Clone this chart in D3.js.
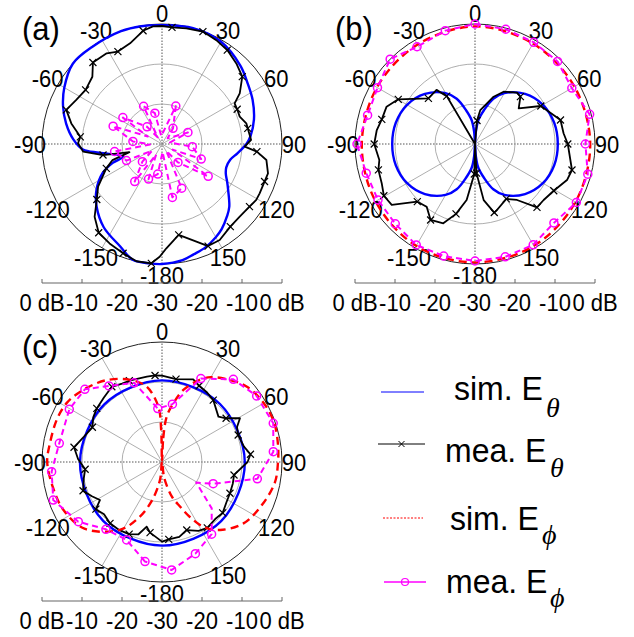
<!DOCTYPE html>
<html><head><meta charset="utf-8">
<script src="https://cdn.jsdelivr.net/npm/d3@7"></script>
<style>body{margin:0;background:#fff}svg{display:block}text{font-family:"Liberation Sans",Arial,sans-serif;fill:#000}</style>
</head><body><svg id="chart" width="634" height="637"></svg>
<script>
// ---------- data ----------
const angleTicks = [0,30,60,90,120,150,180,-150,-120,-90,-60,-30];
const angleLabels = ["0","30","60","90","120","150","-180","-150","-120","-90","-60","-30"];
const ringLevels = [-20,-10];
const scaleTickIdx = [-3,-2,-1,0,1,2,3];
const scaleLabels = ["0 dB","-10","-20","-30","-20","-10","0 dB"];
const panelLabels = ["(a)","(b)","(c)"];

// (a)
const aSimTheta = [[0,-0.3],[15,0],[30,-0.5],[45,-2.3],[55,-3.8],[64,-4.8],[75,-6.2],[85,-7.8],[90,-8.9],[97,-11],[103,-12.5],[110,-12.9],[115,-12.4],[120,-11.2],[125,-9.8],[133,-7],[138,-5.7],[145,-4],[150,-3.1],[157,-2],[164,-1.3],[170,-0.5],[180,0],[-174,0],[-166,-0.1],[-158,-2.3],[-145,-4.6],[-134,-7.3],[-125,-10],[-116,-13.5],[-111,-16.8],[-108,-19.8],[-98,-14.2],[-94,-10.2],[-87,-7.8],[-78,-5.5],[-69,-3.5],[-60,-1.8],[-48,0],[-36,-0.1],[-20,0],[-10,-0.1]];
const aMeaTheta = [[0,-0.5],[4.9,-0.75,1],[11.9,-0.45],[20,-0.1,1],[27.6,-0.7],[34.8,-1.4,1],[42.7,-2.6],[50,-3.8,1],[56.9,-6.8],[60.8,-9.2],[65.2,-9.3,1],[70.6,-9.4],[76.2,-8.3],[79.7,-8.2,1],[87.4,-7.7],[91.8,-9.3],[94.6,-6.2,1],[98.7,-3.6],[105.5,-2.5],[110.1,-2.7,1],[116.8,-2.65],[120.7,-2.6],[125.6,-3.1,1],[133.1,-3.4],[140.4,-3.2,1],[149,-2],[155.7,-2,1],[160.6,-4.1],[169.6,-6.9,1],[177.6,-3.9],[-178.8,-1.8],[-174.9,-0.05,1],[-167.7,0],[-160.4,-1,1],[-152.2,-1.9],[-144.5,-2.75,1],[-137.2,-5.2],[-130.4,-8.6,1],[-123.7,-10.8],[-113.6,-14.8,1],[-108,-17],[-104,-21.6],[-100.6,-15,1],[-95.5,-10.2],[-89.5,-9],[-85,-9.5,1],[-77.2,-6.75],[-70.4,-4.6,1],[-62.8,-5.9],[-54.7,-6.6,1],[-46,-5.8],[-40.3,-3.3,1],[-31.4,-3.45],[-25.5,-4.4,1],[-17.6,-3.6],[-9.5,-1.3,1],[-4.4,-0.5]];
const aMeaPhi = [[-172,-22.4,1],[-159,-20.6,1],[-151,-27],[-144,-18.4,1],[-132,-23.4,1],[-124,-27],[-115,-20.2,1],[-99,-18,1],[-92,-27],[-85,-22.7,1],[-70,-17,1],[-62,-26],[-56,-18.2,1],[-41,-24.3,1],[-33,-28],[-26,-19.5,1],[-13,-22.1,1],[-5,-28],[20,-19.9,1],[35,-25.2,1],[45,-28],[66,-22.9,1],[80,-28],[95,-22.4,1],[111,-19.5,1],[118,-27],[125,-15.9,1],[139,-23.9,1],[148,-28],[156,-17.9,1],[169,-16.4,1],[176,-28]];

// (b)
const bSimTheta = [[0,-30],[4,-27],[8,-24],[15,-21.2],[22,-17.8],[30,-15.3],[45,-12.3],[60,-10.4],[75,-9.5],[90,-9.3],[105,-9.5],[120,-10.4],[135,-12.3],[150,-15.3],[158,-17.8],[165,-21.2],[172,-24],[176,-27],[180,-30],[-176,-27],[-172,-24],[-165,-21.2],[-158,-17.8],[-150,-15.3],[-135,-12.3],[-120,-10.4],[-105,-9.5],[-90,-9.3],[-75,-9.5],[-60,-10.4],[-45,-12.3],[-30,-15.3],[-22,-17.8],[-15,-21.2],[-8,-24],[-4,-27]];
const bMeaTheta = [[0,-30],[4.9,-24.1,1],[8.9,-21.4],[21.5,-17.3],[28.7,-15.1],[39.3,-13.4],[43.8,-13.6,1],[50.8,-15.9],[60,-11,1],[74.3,-7.8,1],[83.1,-7.7],[90,-6.8,1],[105,-4.9,1],[111.4,-5.3],[120.7,-7.1,1],[129.2,-7.85],[135.6,-7.85,1],[143.1,-12.5],[150.3,-14.2,1],[161.6,-12.6],[164.3,-12.2,1],[171.2,-15.8],[177,-22.7,1],[180,-30],[-178.7,-22.5,1],[-171.5,-15.85],[-164.8,-11.9,1],[-158.2,-8.65],[-149.7,-8,1],[-142.4,-10.2],[-135,-9.6,1],[-126.2,-4.2],[-119.6,-3.8,1],[-112.8,-4.7],[-105,-5,1],[-99.5,-5.75],[-90,-4.8,1],[-81.9,-5.2],[-75.2,-5.9,1],[-67.1,-6],[-59.8,-7.8,1],[-45.6,-13.7,1],[-35.4,-13.4],[-30.6,-16.1,1]];
const bSimPhi = [[0,-0.6],[30,-1],[60,-1.3],[90,-1.2],[120,-1],[150,-0.6],[180,-0.4],[-150,-0.6],[-120,-1.3],[-90,-1.7],[-60,-1.7],[-30,-1.3]];
const bMeaPhi = [[0,0,1],[15,-0.3,1],[30,-0.65,1],[45,-0.8,1],[60,-2.05,1],[75.5,-0.4,1],[90,-2.4,1],[105,-0.8,1],[120,-0.75,1],[135,-2.1,1],[150,-0.9,1],[165,-0.8,1],[180,-0.75,1],[-164.4,-0.9,1],[-149.8,-0.8,1],[-135,-1.8,1],[-120,-2,1],[-105,-1.85,1],[-90,-0.5,1],[-75,-2.2,1],[-60,-1.85,1],[-45,0,1],[-30.8,-1.7,1],[-14.7,-0.7,1]];

// (c)
const cSimTheta = [[0,-9.6],[45,-9.5],[90,-9.3],[135,-9.1],[180,-9.1],[-135,-9.2],[-90,-9.5],[-45,-9.6]];
const cMeaTheta = [[0,-8.4],[9.6,-9,1],[20.7,-7.9],[26,-8.8,1],[33,-9.3],[39.6,-9.9,1],[51.2,-11.9],[55.7,-10.6,1],[60.7,-7.65],[65,-9.3],[70.5,-9.8,1],[79.4,-9.15],[85,-7.8,1],[90,-8.6],[100.2,-11.7,1],[106.8,-11.5],[114.7,-11.3,1],[122,-11],[130,-10.2,1],[137,-10.5],[145.5,-10,1],[152,-10.5],[160,-11.9,1],[167,-10.8],[175,-10.6,1],[180,-10.1],[-170.4,-12.1,1],[-166.7,-13.4],[-162,-11],[-155.5,-10.2,1],[-148,-9.9],[-139.7,-9.9,1],[-132,-10.5],[-125.5,-9.7,1],[-121.5,-11.8],[-116,-10.5],[-110,-9,1],[-102,-10],[-95.4,-10.7,1],[-88,-9],[-80.5,-7.7,1],[-72,-9.5],[-63.5,-10.55,1],[-57,-9.5],[-50.6,-8.9,1],[-42,-8.3],[-33.7,-7.4,1],[-27,-8],[-21.9,-8.1,1],[-10,-8.3],[-4.6,-8.3,1]];
const cSimPhi = [[0,-30],[3,-24],[6,-18.5],[11,-15],[16.5,-11.2],[24.4,-7.5],[30,-5.5],[38,-3.75],[48,-1.7],[60,-0.6],[71,-0.3],[82,-0.7],[90,-1],[100,-1.3],[112,-2.65],[127,-4.5],[139.5,-7.65],[147,-10.5],[153,-14.5],[158,-18],[164,-21],[172,-26],[180,-30],[-173.7,-25.5],[-165,-19.8],[-157,-14.7],[-148,-10],[-131,-4.5],[-116,-2.6],[-103,-2],[-90,-1.3],[-80.5,-1.6],[-68,-1.65],[-58,-2],[-47.5,-3.3],[-34,-5.3],[-21,-8],[-11.5,-10.8],[-3.8,-16.1],[-1.5,-22]];
const cMeaPhi = [[-170.3,-4.75,1],[-155.6,-8.6,1],[-140.2,-8.1,1],[-125.5,-4.3,1],[-109.3,-1.2,1],[-95,-2.3,1],[-79.7,-3.9,1],[-60.4,-3.35,1],[-46.7,-3.5,1],[-34.9,-6.8,1],[-19.4,-9,1],[-4.5,-16.6,1],[10.2,-15.3,1],[25,-7,1],[40.8,-2.7,1],[55.1,-1.15,1],[70.8,-0.55,1],[84.7,-2.05,1],[100,-5.8,1],[113,-16.1,1],[121,-20],[133,-13],[145.5,-8.1,1],[160,-5.6,1],[174.9,-2.9,1]];

// legend
const legendLabels = ["sim. E","mea. E","sim. E","mea. E"];
const legendSubs = ["\u03b8","\u03b8","\u03d5","\u03d5"];

// ---------- drawing ----------
const svg = d3.select("#chart");
const R = 120;
const TS = 1.05; // vertical stretch of glyphs
const rScale = d3.scaleLinear().domain([-30,0]).range([0,R]).clamp(true);
const rad = d => d*Math.PI/180;
const styles = {
  simTheta:{color:"#0000ff", width:2.4, dash:null, curve:d3.curveCatmullRomClosed.alpha(0.5)},
  meaTheta:{color:"#000", width:1.8, dash:null, curve:d3.curveLinearClosed, marker:"x"},
  simPhi:{color:"#ff0000", width:2.4, dash:"8,5", curve:d3.curveCatmullRomClosed.alpha(0.5)},
  meaPhi:{color:"#ff00ff", width:2, dash:"6,4", curve:d3.curveLinearClosed, marker:"o"}
};
function txt(sel, x, y, size, s){
  return sel.append("text").attr("transform",`translate(${x},${y}) scale(1,${TS})`).attr("font-size",size).text(s);
}

function drawPanel(cx, cy, label, series){
  const g = svg.append("g").attr("transform",`translate(${cx},${cy})`);
  [0,30,60,90,120,150].forEach(a=>{
    const x = R*Math.sin(rad(a)), y = -R*Math.cos(rad(a));
    const axis = (a===0||a===90);
    g.append("line").attr("x1",-x).attr("y1",-y).attr("x2",x).attr("y2",y)
      .attr("stroke", axis?"#555":"#999").attr("stroke-width", axis?1:0.8)
      .attr("stroke-dasharray", axis?"1.5,1.5":null);
  });
  ringLevels.forEach(l=>{
    g.append("circle").attr("r",rScale(l)).attr("fill","none").attr("stroke","#999").attr("stroke-width",0.8);
  });
  g.append("circle").attr("r",R).attr("fill","none").attr("stroke","#222").attr("stroke-width",1);
  angleTicks.forEach((a,i)=>{
    txt(g, 1.1*R*Math.sin(rad(a)), -1.1*R*Math.cos(rad(a))+1+Math.cos(rad(a)), 22, angleLabels[i])
      .attr("text-anchor","middle").attr("dominant-baseline","central");
  });
  series.forEach(([data,key])=>{
    const st = styles[key];
    const line = d3.lineRadial().angle(d=>rad(d[0])).radius(d=>rScale(d[1])).curve(st.curve);
    g.append("path").attr("d",line(data)).attr("fill","none").attr("stroke",st.color)
      .attr("stroke-width",st.width).attr("stroke-dasharray",st.dash).attr("stroke-linejoin","round");
    if(st.marker){
      data.filter(d=>d[2]).forEach(d=>{
        const x = rScale(d[1])*Math.sin(rad(d[0])), y = -rScale(d[1])*Math.cos(rad(d[0]));
        if(st.marker==="x"){
          const s=3.5;
          g.append("path").attr("d",`M${x-s},${y-s}L${x+s},${y+s}M${x-s},${y+s}L${x+s},${y-s}`)
            .attr("stroke",st.color).attr("stroke-width",1.2);
        } else {
          g.append("circle").attr("cx",x).attr("cy",y).attr("r",4).attr("fill","none")
            .attr("stroke",st.color).attr("stroke-width",1.5);
        }
      });
    }
  });
  txt(svg, cx-140, cy-104, 31, label);
  const xs = d3.scaleLinear().domain([-3,3]).range([cx-R,cx+R]);
  const sb = svg.append("g");
  sb.append("line").attr("x1",xs(-3)).attr("x2",xs(3)).attr("y1",cy+139).attr("y2",cy+139)
    .attr("stroke","#666").attr("stroke-width",1.2);
  scaleTickIdx.forEach((t,i)=>{
    sb.append("line").attr("x1",xs(t)).attr("x2",xs(t)).attr("y1",cy+139).attr("y2",cy+135)
      .attr("stroke","#666").attr("stroke-width",1);
    txt(sb, xs(t), cy+167, 22, scaleLabels[i]).attr("text-anchor","middle");
  });
}

drawPanel(162,144,panelLabels[0],[[aSimTheta,"simTheta"],[aMeaTheta,"meaTheta"],[aMeaPhi,"meaPhi"]]);
drawPanel(475,144,panelLabels[1],[[bSimTheta,"simTheta"],[bMeaTheta,"meaTheta"],[bSimPhi,"simPhi"],[bMeaPhi,"meaPhi"]]);
drawPanel(162,462,panelLabels[2],[[cSimTheta,"simTheta"],[cMeaTheta,"meaTheta"],[cSimPhi,"simPhi"],[cMeaPhi,"meaPhi"]]);

// legend
const lg = svg.append("g");
const legendLayout = [
  {ly:392, x1:381, x2:424, tx:454, ty:400, sx:546, sy:417, key:"simTheta"},
  {ly:444, x1:378, x2:425, tx:445, ty:462, sx:550, sy:477, key:"meaTheta"},
  {ly:518, x1:383, x2:423, tx:450, ty:530, sx:542, sy:544, key:"simPhi"},
  {ly:582, x1:384, x2:426, tx:446, ty:593, sx:550, sy:607, key:"meaPhi"}
];
legendLayout.forEach((L,i)=>{
  const st = styles[L.key];
  lg.append("line").attr("x1",L.x1).attr("x2",L.x2).attr("y1",L.ly).attr("y2",L.ly)
    .attr("stroke",st.color).attr("stroke-width", L.key==="meaPhi"?1.5:1)
    .attr("stroke-dasharray", L.key==="simPhi"?"2,1.5":null);
  const mx=(L.x1+L.x2)/2;
  if(st.marker==="x"){
    lg.append("path").attr("d",`M${mx-3},${L.ly-3}L${mx+3},${L.ly+3}M${mx-3},${L.ly+3}L${mx+3},${L.ly-3}`).attr("stroke","#000").attr("stroke-width",1);
  } else if(st.marker==="o"){
    lg.append("circle").attr("cx",mx).attr("cy",L.ly).attr("r",3.5).attr("fill","none").attr("stroke",st.color).attr("stroke-width",1.2);
  }
  txt(lg, L.tx, L.ty, 32, legendLabels[i]);
  lg.append("text").attr("x",L.sx).attr("y",L.sy).attr("font-size",28)
    .attr("font-style","italic").style("font-family","'Liberation Serif','Times New Roman',serif").text(legendSubs[i]);
});
</script></body></html>
